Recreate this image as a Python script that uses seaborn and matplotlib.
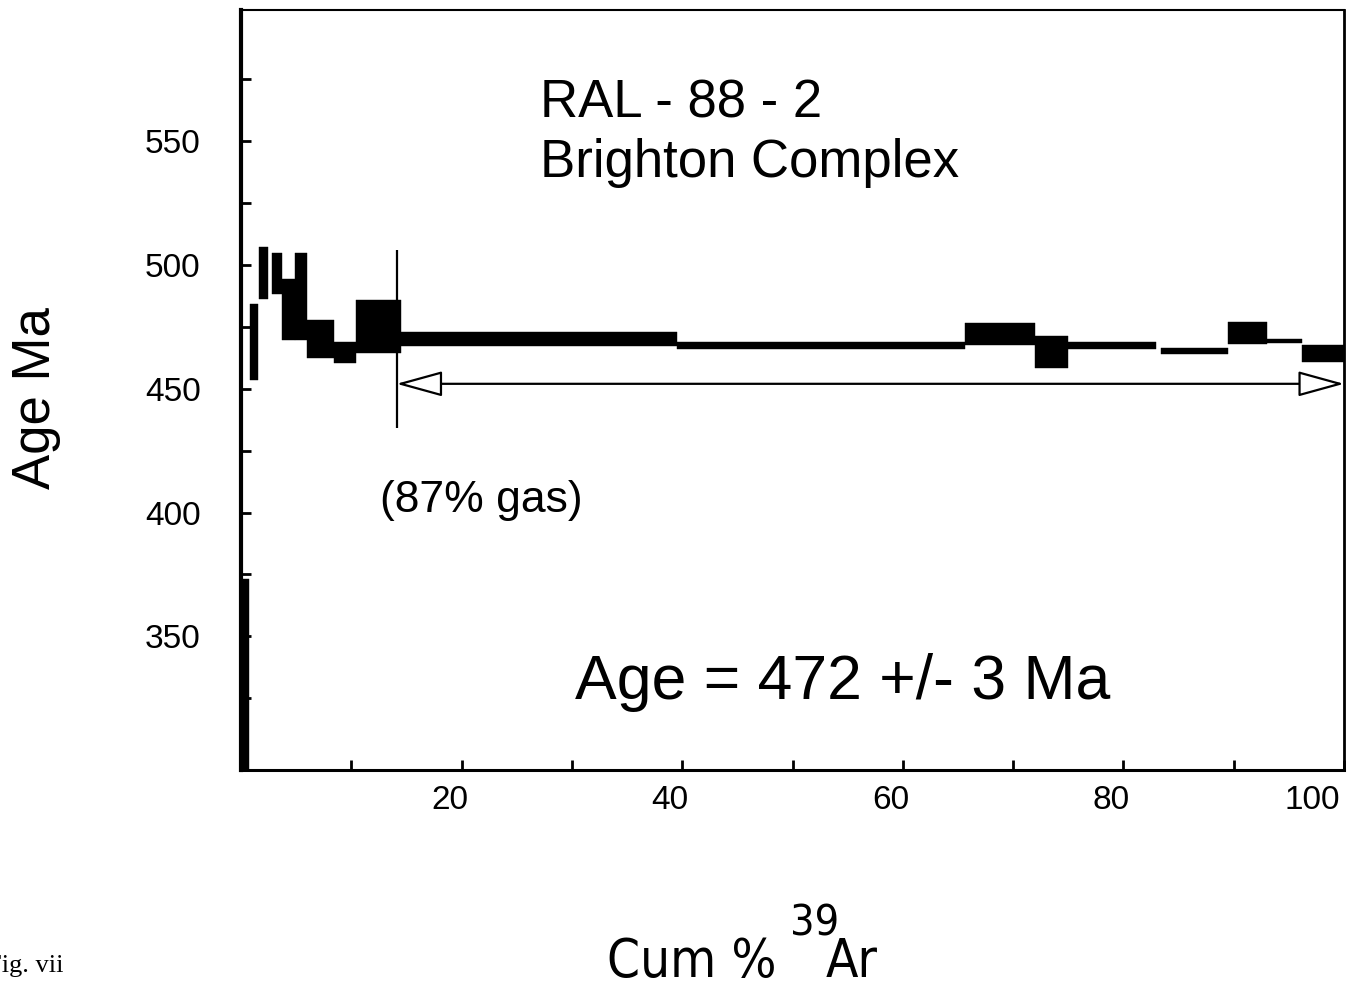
import numpy as np
import pandas as pd
import seaborn as sns
import matplotlib
matplotlib.use("Agg")
import matplotlib.pyplot as plt
import matplotlib.transforms as mtrans
from matplotlib import font_manager
from matplotlib.ticker import FixedLocator

# Step-heating increments: cumulative % 39Ar released (start, end) and apparent age window (Ma)
cum_start = [0.0, 0.8, 1.65, 2.8, 3.7, 4.9, 6.0, 8.4, 10.4, 14.5, 39.5, 65.6, 72.0, 75.0, 83.4, 89.5, 93.0, 96.2]
cum_end = [0.7, 1.55, 2.45, 3.7, 4.9, 6.0, 8.4, 10.4, 14.5, 39.5, 65.6, 72.0, 75.0, 83.0, 89.5, 93.0, 96.2, 100.0]
age_low = [260.0, 453.4, 486.4, 488.4, 469.5, 469.5, 462.3, 460.3, 464.3, 467.1, 466.0, 467.5, 458.2, 466.2, 463.9, 468.2, 468.3, 460.8]
age_high = [373.0, 484.4, 507.3, 505.0, 494.5, 505.0, 477.6, 469.0, 486.0, 473.1, 469.0, 476.4, 471.5, 468.8, 466.3, 476.9, 470.3, 467.5]

# Plateau definition
plateau_start = 14.1
plateau_end = 100.0
plateau_marker_age = 452.0
plateau_line_ages = [434.0, 506.0]

x_major = [20, 40, 60, 80, 100]
x_minor = [10, 30, 50, 70, 90]
y_major = [350, 400, 450, 500, 550]
y_minor = [325, 375, 425, 475, 525, 575]

steps = pd.DataFrame({
    "start": cum_start,
    "end": cum_end,
    "low": age_low,
    "high": age_high,
})
steps["width"] = steps["end"] - steps["start"]
steps["height"] = steps["high"] - steps["low"]

sns.set_theme(style="white")
plt.rcParams["font.family"] = ["Liberation Sans", "DejaVu Sans"]

# Condensed face for the horizontal axis title, if one is installed
installed = font_manager.fontManager.ttflist
if any(f.name == "Liberation Sans Narrow" for f in installed):
    narrow = dict(family=["Liberation Sans Narrow", "Liberation Sans"], size_main=44, size_sup=35)
elif any(f.name == "DejaVu Sans" and f.stretch == "condensed" for f in installed):
    narrow = dict(family=["DejaVu Sans"], stretch="condensed", size_main=38, size_sup=31)
else:
    narrow = dict(family=["Liberation Sans"], size_main=37, size_sup=30)
narrow_kw = {"family": narrow["family"]}
if "stretch" in narrow:
    narrow_kw["fontstretch"] = narrow["stretch"]

fig = plt.figure(figsize=(13.48, 9.90), dpi=100)
ax = fig.add_axes([241 / 1348, 220 / 990, 1103 / 1348, 760 / 990])

# Age spectrum boxes
ax.bar(steps["start"], steps["height"], width=steps["width"], bottom=steps["low"],
       align="edge", color="black", edgecolor="black", linewidth=0.3, zorder=3)

ax.set_xlim(0, 100)
ax.set_ylim(296, 603)

# Plateau boundary and extent arrow
ax.vlines(plateau_start, plateau_line_ages[0], plateau_line_ages[1], color="black", lw=1.6, zorder=4)
ax.annotate("", xy=(plateau_end, plateau_marker_age), xytext=(plateau_start, plateau_marker_age),
            arrowprops=dict(arrowstyle="<|-|>,head_length=2.9,head_width=0.8",
                            mutation_scale=10, fc="white", ec="black", lw=1.6,
                            shrinkA=0, shrinkB=0),
            annotation_clip=False, zorder=4)

# Axes styling
for side, lw in {"left": 3.0, "bottom": 2.2, "top": 1.5, "right": 2.0}.items():
    ax.spines[side].set_visible(True)
    ax.spines[side].set_color("black")
    ax.spines[side].set_linewidth(lw)

ax.set_xticks(x_major)
ax.set_xticklabels([str(v) for v in x_major])
ax.xaxis.set_minor_locator(FixedLocator(x_minor))
ax.set_yticks(y_major)
ax.set_yticklabels([str(v) for v in y_major])
ax.yaxis.set_minor_locator(FixedLocator(y_minor))
ax.tick_params(which="both", direction="in", length=7, width=2, color="black",
               labelcolor="black", top=False, right=False, bottom=True, left=True)
ax.tick_params(axis="x", which="major", labelsize=24, pad=11)
ax.tick_params(axis="y", which="major", labelsize=24, pad=29)

shift = mtrans.ScaledTranslation(-12 / 100, 0, fig.dpi_scale_trans)
xlabels = ax.get_xticklabels()
for lab in xlabels[:-1]:
    lab.set_transform(lab.get_transform() + shift)
xlabels[-1].set_horizontalalignment("right")
xlabels[-1].set_transform(xlabels[-1].get_transform()
                          + mtrans.ScaledTranslation(-4 / 100, 0, fig.dpi_scale_trans))

ax.set_ylabel("Age Ma", fontsize=38, color="black")
ax.yaxis.set_label_coords(-0.163, 0.49)

# Sample annotations
ax.text(27.1, 559.5, "RAL - 88 - 2", fontsize=38, ha="left", va="baseline", color="black")
ax.text(27.1, 535.5, "Brighton Complex", fontsize=38, ha="left", va="baseline", color="black")
ax.text(12.6, 400.3, "(87% gas)", fontsize=32, ha="left", va="baseline", color="black")
ax.text(30.3, 324.6, "Age = 472 +/- 3 Ma", fontsize=45, ha="left", va="baseline", color="black")

# Horizontal axis title: Cum % 39Ar
fig.text(607 / 1348, 1 - 977 / 990, "Cum %", fontsize=narrow["size_main"],
         ha="left", va="baseline", color="black", **narrow_kw)
fig.text(790 / 1348, 1 - 936 / 990, "39", fontsize=narrow["size_sup"],
         ha="left", va="baseline", color="black", **narrow_kw)
fig.text(826 / 1348, 1 - 977 / 990, "Ar", fontsize=narrow["size_main"],
         ha="left", va="baseline", color="black", **narrow_kw)

fig.text(-13 / 1348, 1 - 972 / 990, "Fig. vii", fontsize=19,
         family=["Liberation Serif", "DejaVu Serif"], ha="left", va="baseline", color="black")

fig.savefig("out.png", dpi=100, facecolor="white")
